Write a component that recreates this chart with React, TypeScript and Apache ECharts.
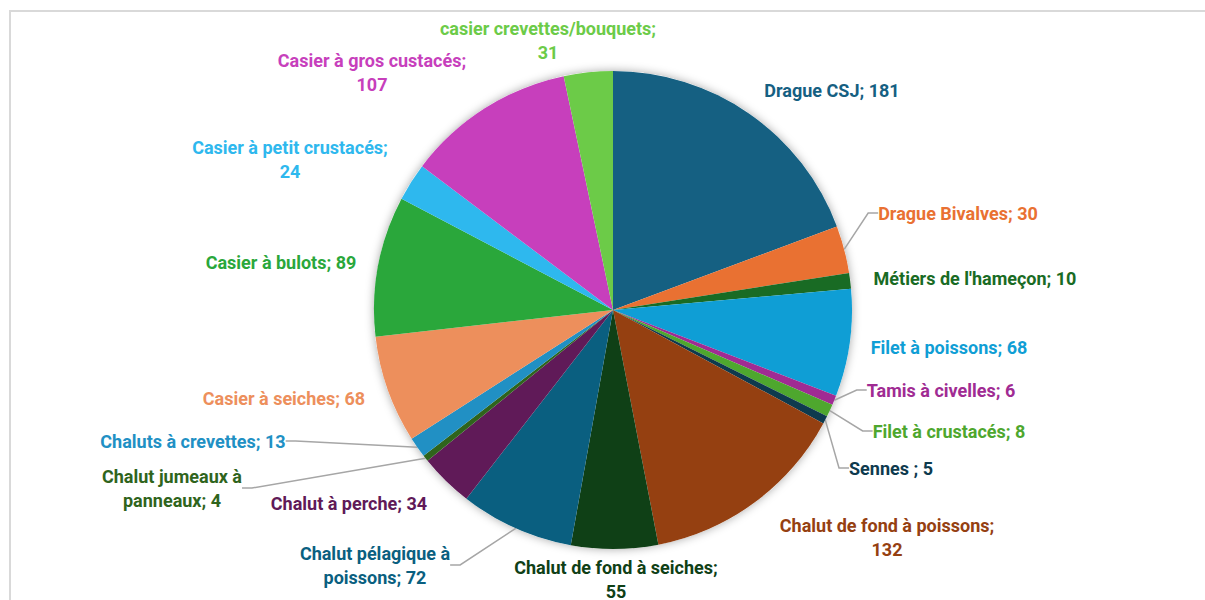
import React, { useEffect, useRef } from "react";
import * as echarts from "echarts";

const categories = [
  "Drague CSJ",
  "Drague Bivalves",
  "Métiers de l'hameçon",
  "Filet à poissons",
  "Tamis à civelles",
  "Filet à crustacés",
  "Sennes ",
  "Chalut de fond à poissons",
  "Chalut de fond à seiches",
  "Chalut pélagique à poissons",
  "Chalut à perche",
  "Chalut jumeaux à panneaux",
  "Chaluts à crevettes",
  "Casier à seiches",
  "Casier à bulots",
  "Casier à petit crustacés",
  "Casier à gros custacés",
  "casier crevettes/bouquets",
];

const values = [181, 30, 10, 68, 6, 8, 5, 132, 55, 72, 34, 4, 13, 68, 89, 24, 107, 31];

const colors = [
  "#156082",
  "#E97132",
  "#196B24",
  "#0F9ED5",
  "#A02B93",
  "#4EA72E",
  "#0E3A4E",
  "#954011",
  "#0F4016",
  "#0A5F80",
  "#601A58",
  "#2F641C",
  "#2190C4",
  "#ED8F5C",
  "#2AA73B",
  "#2EB8EE",
  "#C73FBC",
  "#6CCB48",
];

// label layout (centre of each label box, in px)
const labelCenters: [number, number][] = [
  [832, 90],
  [958, 213],
  [975, 278],
  [949, 347],
  [941, 390],
  [949, 431],
  [891, 468],
  [887, 537],
  [616, 579],
  [375, 565],
  [349, 503],
  [172, 488],
  [193, 441],
  [284, 398],
  [281, 262],
  [290, 159],
  [372, 72],
  [548, 40],
];

const withLine = new Set([
  "Drague Bivalves",
  "Tamis à civelles",
  "Filet à crustacés",
  "Sennes ",
  "Chalut pélagique à poissons",
  "Chalut jumeaux à panneaux",
  "Chaluts à crevettes",
]);

const breakAfterSemicolon = new Set([
  "Chalut de fond à poissons",
  "Chalut de fond à seiches",
  "Casier à petit crustacés",
  "Casier à gros custacés",
  "casier crevettes/bouquets",
]);

const breakBeforeLastWord = new Set(["Chalut jumeaux à panneaux", "Chalut pélagique à poissons"]);

function labelText(name: string, value: number): string {
  if (breakAfterSemicolon.has(name)) return `${name};\n${value}`;
  if (breakBeforeLastWord.has(name)) {
    const i = name.lastIndexOf(" ");
    return `${name.slice(0, i)}\n${name.slice(i + 1)}; ${value}`;
  }
  return `${name}; ${value}`;
}

export default function App() {
  const ref = useRef<HTMLDivElement>(null);
  useEffect(() => {
    document.body.style.margin = "0";
    if (!ref.current) return;
    const chart = echarts.init(ref.current, undefined, { renderer: "svg" });
    const data = categories.map((name, i) => ({
      name,
      value: values[i],
      itemStyle: { color: colors[i] },
      label: { color: colors[i] },
      labelLine: { show: withLine.has(name) },
    }));
    chart.setOption({
      animation: false,
      backgroundColor: "#ffffff",
      graphic: [
        {
          type: "rect",
          shape: { x: 10, y: 11, width: 1400, height: 800 },
          style: { fill: "none", stroke: "#d9d9d9", lineWidth: 2 },
          silent: true,
          z: -10,
        },
      ],
      series: [
        {
          type: "pie",
          silent: true,
          center: [613, 310],
          radius: 239,
          data: [{ value: 1, name: "bg" }],
          itemStyle: {
            color: "#ffffff",
            shadowBlur: 10,
            shadowColor: "rgba(0,0,0,0.35)",
          },
          label: { show: false },
          labelLine: { show: false },
          z: 1,
        },
        {
          type: "pie",
          center: [613, 310],
          radius: 239,
          startAngle: 90,
          clockwise: true,
          z: 2,
          data,
          itemStyle: { borderWidth: 0 },
          label: {
            show: true,
            position: "outside",
            fontFamily: "Roboto",
            fontWeight: "bold",
            fontSize: 18,
            lineHeight: 24,
            align: "center",
            formatter: (p: any) => labelText(p.name, p.value),
          },
          labelLine: {
            show: true,
            length: 10,
            length2: 10,
            lineStyle: { color: "#a6a6a6", width: 1.5 },
          },
          labelLayout: (p: any) => {
            const c = labelCenters[p.dataIndex];
            return {
              x: c[0],
              y: c[1],
              align: "center",
              verticalAlign: "middle",
            };
          },
        },
      ],
    });
    return () => chart.dispose();
  }, []);
  return <div ref={ref} style={{ width: 1205, height: 600 }} />;
}
